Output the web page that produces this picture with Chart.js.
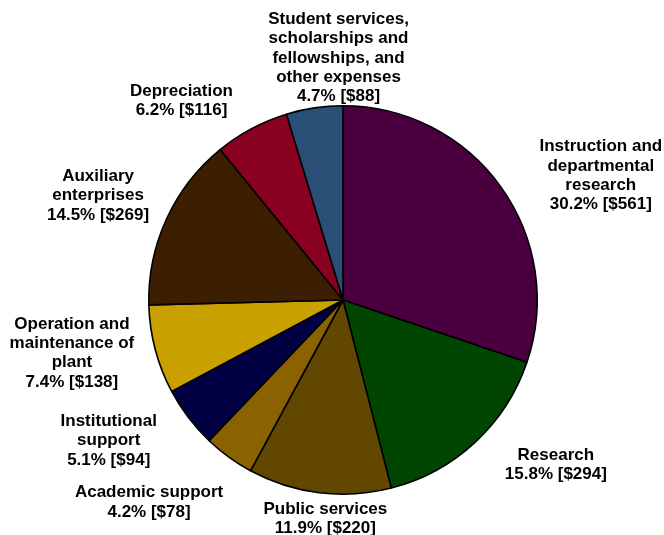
<!DOCTYPE html>
<html>
<head>
<meta charset="utf-8">
<script src="https://cdn.jsdelivr.net/npm/chart.js@4"></script>
<style>
  html, body { margin: 0; padding: 0; background: #fff; }
  #wrap { width: 664px; height: 535px; }
</style>
</head>
<body>
<div id="wrap"><canvas id="pie-chart" width="664" height="535"></canvas></div>
<script>
// Slices, clockwise from 12 o'clock
const categories = [
    ['Instruction and', 'departmental', 'research'],
    ['Research'],
    ['Public services'],
    ['Academic support'],
    ['Institutional', 'support'],
    ['Operation and', 'maintenance of', 'plant'],
    ['Auxiliary', 'enterprises'],
    ['Depreciation'],
    ['Student services,', 'scholarships and', 'fellowships, and', 'other expenses']
];
const percents = [30.2, 15.8, 11.9, 4.2, 5.1, 7.4, 14.5, 6.2, 4.7];
const amounts = [561, 294, 220, 78, 94, 138, 269, 116, 88];
const colors = ['#4a003f', '#004600', '#614700', '#8a6300', '#000042', '#c8a000', '#3c1e00', '#890020', '#2b5078'];

// Label layout: turn (degrees) off the slice's mid angle, and distance past the rim
const labelTurn = [9.9, -9.4, -2.4, 7.8, 6.3, 3.7, -1.6, -11.0, 7.4];
const labelGap = [92, 75, 25, 86, 79, 82, 72, 62, 48];

const FONT = 'bold 17px "Liberation Sans", Arial, sans-serif';
const LINE_H = 19.3;

// Draw text labels outside the pie
const outsideLabels = {
    id: 'outsideLabels',
    afterDatasetsDraw(chart) {
        const ctx = chart.ctx;
        const arcs = chart.getDatasetMeta(0).data;
        ctx.save();
        ctx.font = FONT;
        ctx.fillStyle = '#000';
        ctx.textAlign = 'center';
        ctx.textBaseline = 'middle';
        arcs.forEach((arc, i) => {
            const lines = categories[i].concat([percents[i].toFixed(1) + '% [$' + amounts[i] + ']']);
            const h = lines.length * LINE_H;
            const ang = (arc.startAngle + arc.endAngle) / 2 + labelTurn[i] * Math.PI / 180;
            const d = arc.outerRadius + labelGap[i];
            const x = arc.x + d * Math.cos(ang);
            const y = arc.y + d * Math.sin(ang);
            lines.forEach((line, j) => {
                ctx.fillText(line, x, y - h / 2 + LINE_H * (j + 0.5));
            });
        });
        ctx.restore();
    }
};

new Chart(document.getElementById('pie-chart').getContext('2d'), {
    type: 'pie',
    data: {
        labels: categories.map(c => c.join(' ')),
        datasets: [{
            data: percents,
            backgroundColor: colors,
            borderColor: '#000',
            borderWidth: 1.6
        }]
    },
    options: {
        responsive: false,
        animation: false,
        layout: { padding: { left: 148, right: 126, top: 105, bottom: 40 } },
        plugins: {
            legend: { display: false },
            tooltip: { enabled: false }
        }
    },
    plugins: [outsideLabels]
});
</script>
</body>
</html>
